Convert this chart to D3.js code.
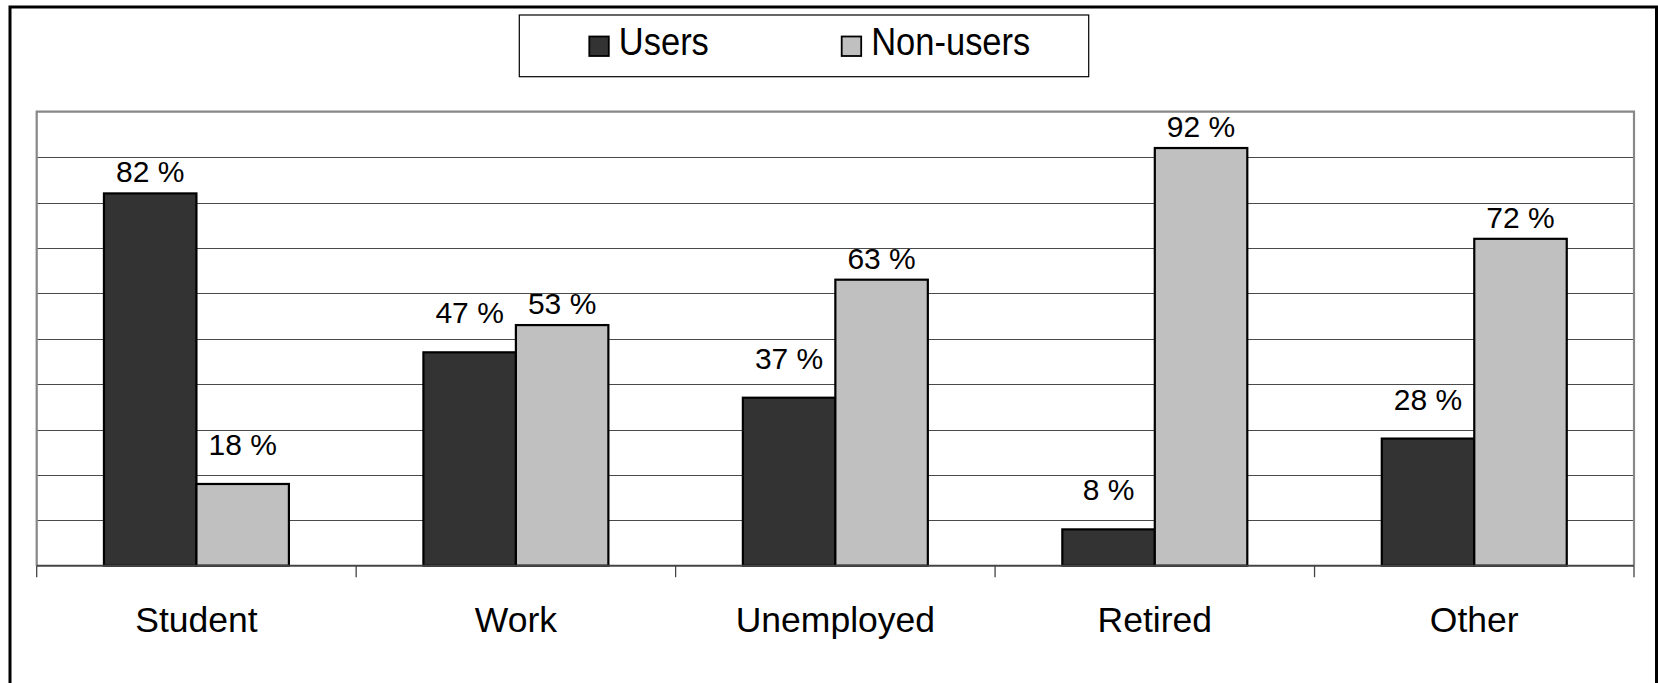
<!DOCTYPE html>
<html>
<head>
<meta charset="utf-8">
<script src="https://cdn.jsdelivr.net/npm/d3@7"></script>
<style>
  html, body { margin: 0; padding: 0; background: #fff; }
  svg { display: block; }
  text { font-family: "Liberation Sans", Arial, sans-serif; fill: #000; }
</style>
</head>
<body>
<svg id="chart" width="1658" height="683"></svg>
<script>
// ---- data ----
const categories = ["Student", "Work", "Unemployed", "Retired", "Other"];
const seriesNames = ["Users", "Non-users"];
const usersValues = [82, 47, 37, 8, 28];
const nonUsersValues = [18, 53, 63, 92, 72];
const yTicks = [0, 10, 20, 30, 40, 50, 60, 70, 80, 90, 100];
const seriesColors = ["#333333", "#c0c0c0"];

const seriesValues = [usersValues, nonUsersValues];

const svg = d3.select("#chart");

// outer frame
svg.append("rect")
  .attr("x", 10).attr("y", 7)
  .attr("width", 1646.5).attr("height", 700)
  .attr("fill", "#fff").attr("stroke", "#000").attr("stroke-width", 3);

// plot area
const plot = { left: 36.7, right: 1634, top: 111.7, bottom: 565.7 };

const y = d3.scaleLinear().domain([0, 100]).range([plot.bottom, plot.top]);
const pad = 0.421;
const x0 = d3.scaleBand().domain(categories)
  .range([plot.left, plot.right])
  .paddingInner(pad).paddingOuter(pad / 2);
const x1 = d3.scaleBand().domain(seriesNames).range([0, x0.bandwidth()]).padding(0);
const color = d3.scaleOrdinal().domain(seriesNames).range(seriesColors);

// gridlines
svg.append("g")
  .selectAll("line")
  .data(yTicks.filter(t => t > 0 && t < 100))
  .join("line")
  .attr("x1", plot.left).attr("x2", plot.right)
  .attr("y1", d => Math.round(y(d)) + 0.5).attr("y2", d => Math.round(y(d)) + 0.5)
  .attr("stroke", "#4a4a4a").attr("stroke-width", 1.2);

// plot border (gray)
svg.append("path")
  .attr("d", `M${plot.left},${plot.bottom} V${plot.top} H${plot.right} V${plot.bottom}`)
  .attr("fill", "none").attr("stroke", "#888").attr("stroke-width", 2.2);

// bars
const groups = svg.append("g").selectAll("g")
  .data(categories.map((c, i) => ({ c, i })))
  .join("g")
  .attr("transform", d => `translate(${x0(d.c)},0)`);

groups.selectAll("rect")
  .data(d => seriesNames.map((s, k) => ({ s, v: seriesValues[k][d.i] })))
  .join("rect")
  .attr("x", d => x1(d.s))
  .attr("y", d => y(d.v))
  .attr("width", x1.bandwidth())
  .attr("height", d => y(0) - y(d.v))
  .attr("fill", d => color(d.s))
  .attr("stroke", "#000").attr("stroke-width", 2.2);

// data labels
groups.selectAll("text")
  .data(d => seriesNames.map((s, k) => {
    const v = seriesValues[k][d.i];
    const other = seriesValues[1 - k][d.i];
    return { s, v, taller: v >= other };
  }))
  .join("text")
  .attr("x", d => x1(d.s) + x1.bandwidth() / 2)
  .attr("y", d => y(d.v) - (d.taller ? 11 : 29))
  .attr("text-anchor", "middle")
  .attr("font-size", 30)
  .text(d => d.v + " %");

// x axis line
svg.append("line")
  .attr("x1", plot.left).attr("x2", plot.right)
  .attr("y1", plot.bottom).attr("y2", plot.bottom)
  .attr("stroke", "#444").attr("stroke-width", 2);

// x ticks at category boundaries
svg.append("g").selectAll("line")
  .data(d3.range(categories.length + 1))
  .join("line")
  .attr("x1", i => plot.left + i * x0.step())
  .attr("x2", i => plot.left + i * x0.step())
  .attr("y1", plot.bottom).attr("y2", plot.bottom + 11.5)
  .attr("stroke", "#444").attr("stroke-width", 1.3);

// category labels
svg.append("g").selectAll("text")
  .data(categories)
  .join("text")
  .attr("x", d => x0(d) + x0.bandwidth() / 2)
  .attr("y", 632)
  .attr("text-anchor", "middle")
  .attr("font-size", 35.5)
  .text(d => d);

// legend
const legend = svg.append("g");
legend.append("rect")
  .attr("x", 519.3).attr("y", 15)
  .attr("width", 569.4).attr("height", 61.7)
  .attr("fill", "#fff").attr("stroke", "#000").attr("stroke-width", 1.2);

const legendX = [589.3, 841.7];
const items = legend.selectAll("g.item")
  .data(seriesNames)
  .join("g").attr("class", "item")
  .attr("transform", (d, i) => `translate(${legendX[i]},0)`);
items.append("rect")
  .attr("x", 0).attr("y", 36.5)
  .attr("width", 19.5).attr("height", 19.5)
  .attr("fill", d => color(d))
  .attr("stroke", "#000").attr("stroke-width", 1.8);
items.append("text")
  .attr("transform", "translate(29.5,55) scale(1,1.13)")
  .attr("font-size", 34.5)
  .text(d => d);
</script>
</body>
</html>
